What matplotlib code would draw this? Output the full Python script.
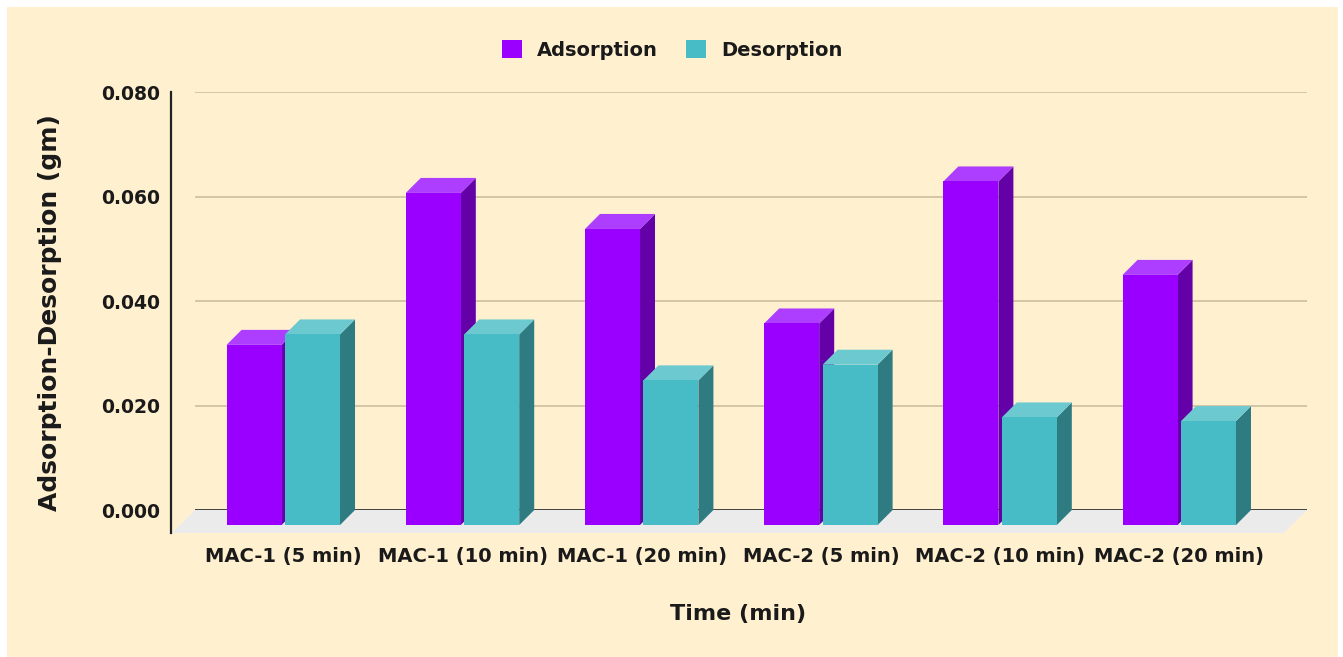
import numpy as np
import matplotlib
matplotlib.use("Agg")
import matplotlib.pyplot as plt
from matplotlib.patches import Polygon, Rectangle, Patch
from matplotlib.transforms import blended_transform_factory

# ---- data ----
categories = ["MAC-1 (5 min)", "MAC-1 (10 min)", "MAC-1 (20 min)",
              "MAC-2 (5 min)", "MAC-2 (10 min)", "MAC-2 (20 min)"]
adsorption = [0.0345, 0.0636, 0.0567, 0.0386, 0.0658, 0.0479]
desorption = [0.0365, 0.0365, 0.0277, 0.0307, 0.0206, 0.0199]
y_ticks = [0.000, 0.020, 0.040, 0.060, 0.080]
series_names = ["Adsorption", "Desorption"]

# ---- style ----
CREAM = "#fff0cf"
TEXT = "#1a1a1a"
GRID = "#cfc3a3"
FLOOR = "#ebebeb"
PURPLE = {"front": "#9900ff", "top": "#ad3dff", "side": "#6300a8"}
TEAL = {"front": "#47bbc6", "top": "#6cc9d0", "side": "#2e7b82"}
FONT = "DejaVu Sans"

W, H = 1343, 657
fig = plt.figure(figsize=(W / 100, H / 100), dpi=100)
fig.patch.set_facecolor("white")
fig.patches.append(Rectangle((7 / W, 0), (1338 - 7) / W, (H - 7) / H,
                             transform=fig.transFigure, facecolor=CREAM,
                             edgecolor="none", zorder=-10))

# back wall of the plot
left, right, top, bottom = 195, 1307, 92.3, 510
ax = fig.add_axes([left / W, (H - bottom) / H, (right - left) / W, (bottom - top) / H])
ax.set_facecolor("none")
for s in ax.spines.values():
    s.set_visible(False)
ax.set_xlim(-0.5765, 5.629)
ax.set_ylim(0, 0.08)

# pixel -> data conversion for the pseudo-3D depth
inv = ax.transData.inverted()
def px_to_data(dx, dy):
    p0 = inv.transform(ax.transData.transform((0, 0)))
    p1 = inv.transform(ax.transData.transform((0, 0)) + np.array([dx, dy]))
    return p1 - p0

bar_dx, bar_dy = px_to_data(15, 15)
floor_dx, floor_dy = px_to_data(23, 23)

# gridlines and base line
for t in y_ticks[1:]:
    ax.axhline(t, color=GRID, lw=1.3, zorder=1)

# floor
x0, x1 = ax.get_xlim()
floor = Polygon([(x0, 0), (x1, 0), (x1 - floor_dx, -floor_dy), (x0 - floor_dx, -floor_dy)],
                closed=True, facecolor=FLOOR, edgecolor="none", clip_on=False, zorder=0.5)
ax.add_patch(floor)
ax.axhline(0, color="#333333", lw=1.3, zorder=1.5)

# y axis line
bt = blended_transform_factory(ax.transAxes, ax.transData)
ax_x = -(left - 171) / (right - left)
ax.plot([ax_x, ax_x], [0.08, -floor_dy], transform=bt, color="#222222", lw=1.6,
        clip_on=False, zorder=2)

# bars
bar_w = 0.307
gap = 0.0095

def bar3d(x, w, v, colors):
    front = [(x - bar_dx, -bar_dy), (x + w - bar_dx, -bar_dy),
             (x + w - bar_dx, v - bar_dy), (x - bar_dx, v - bar_dy)]
    topf = [(x - bar_dx, v - bar_dy), (x + w - bar_dx, v - bar_dy), (x + w, v), (x, v)]
    side = [(x + w - bar_dx, -bar_dy), (x + w, 0), (x + w, v), (x + w - bar_dx, v - bar_dy)]
    for pts, key in ((side, "side"), (topf, "top"), (front, "front")):
        ax.add_patch(Polygon(pts, closed=True, facecolor=colors[key], edgecolor="none",
                             clip_on=False, zorder=3))

for i in range(len(categories)):
    bar3d(i - gap - bar_w, bar_w, adsorption[i], PURPLE)
    bar3d(i + gap, bar_w, desorption[i], TEAL)

# ticks
ax.set_yticks(y_ticks)
ax.set_yticklabels([f"{t:.3f}" for t in y_ticks], fontfamily=FONT,
                   fontweight="bold", fontsize=13.5, color=TEXT)
ax.tick_params(axis="y", length=0, pad=25)
ax.set_xticks(np.arange(len(categories)) - bar_dx)
ax.set_xticklabels(categories, fontfamily=FONT, fontweight="bold",
                   fontsize=14, color=TEXT)
ax.tick_params(axis="x", length=0, pad=26.5)

# axis titles
fig.text(738 / W, 1 - 614 / H, "Time (min)", ha="center", va="center",
         fontfamily=FONT, fontweight="bold", fontsize=16, color=TEXT)
fig.text(50 / W, 1 - 313 / H, "Adsorption-Desorption (gm)", ha="center", va="center",
         rotation=90, fontfamily=FONT, fontweight="bold", fontsize=18, color=TEXT)

# legend
handles = [Patch(facecolor=PURPLE["front"], edgecolor="none"),
           Patch(facecolor=TEAL["front"], edgecolor="none")]
leg = fig.legend(handles, series_names, loc="center", bbox_to_anchor=(672 / W, 1 - 50 / H),
                 ncol=2, frameon=False, handlelength=1.05, handleheight=1.05,
                 handletextpad=0.75, columnspacing=1.45,
                 prop={"family": FONT, "weight": "bold", "size": 14})
for t in leg.get_texts():
    t.set_color(TEXT)

fig.savefig("out.png", dpi=100, facecolor=fig.get_facecolor())
